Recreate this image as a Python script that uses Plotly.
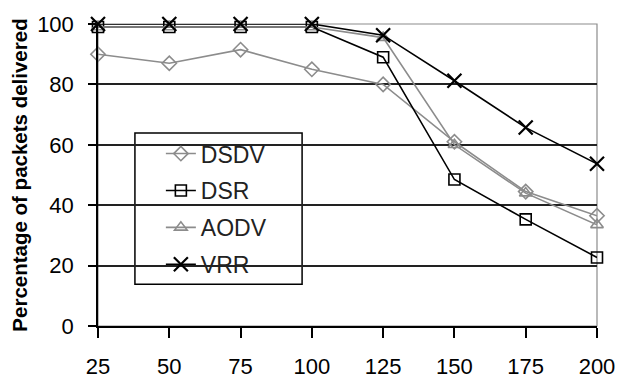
import plotly.graph_objects as go

nodes = [25, 50, 75, 100, 125, 150, 175, 200]
dsdv = [90, 87, 91.5, 85, 80, 61, 44.5, 36.5]
dsr = [99, 99, 99, 99, 89, 48.5, 35.3, 22.7]
aodv = [99, 99, 99, 99, 95.5, 60, 44, 33.5]
vrr = [100, 100, 100, 100, 96.3, 81.2, 65.7, 53.7]
y_ticks = [0, 20, 40, 60, 80, 100]

GRAY = "#8c8c8c"
series = [
    ("DSDV", dsdv, GRAY, "diamond-open", 11),
    ("DSR", dsr, "black", "square-open", 11),
    ("AODV", aodv, GRAY, "triangle-up-open", 11),
    ("VRR", vrr, "black", "x-thin-open", 14),
]

fig = go.Figure()
for i, (name, vals, col, sym, sz) in enumerate(series):
    fig.add_trace(go.Scatter(
        x=nodes, y=vals, name=name, mode="lines+markers",
        line=dict(color=col, width=1.6),
        marker=dict(symbol=sym, size=sz, color=col,
                    line=dict(color=col, width=2.2 if sym.startswith("x") else 1.6)),
        cliponaxis=False, legendgroup=f"g{i}",
    ))

fig.update_layout(
    width=621, height=380,
    margin=dict(l=98, r=24, t=24, b=54),
    paper_bgcolor="white", plot_bgcolor="white",
    font=dict(family="Liberation Sans, Arial", color="black"),
    showlegend=True,
    legend=dict(
        x=0.126, y=0.642, xanchor="left", yanchor="top",
        bgcolor="rgba(0,0,0,0)", borderwidth=0,
        font=dict(size=23, color="#222"), tracegroupgap=4,
    ),
    xaxis=dict(
        range=[25, 200], tickvals=nodes, ticktext=[str(n) for n in nodes],
        showgrid=False, zeroline=False, showline=True, linecolor="black", linewidth=1.5,
        ticks="outside", ticklen=10, tickwidth=1.5, tickcolor="black",
        tickfont=dict(size=22), ticklabelstandoff=10, automargin=False,
    ),
    yaxis=dict(
        range=[0, 100], tickvals=y_ticks, showgrid=True, gridcolor="#222", gridwidth=1.5,
        zeroline=False, showline=True, linecolor="black", linewidth=1.5,
        ticks="outside", ticklen=8, tickwidth=1.5, tickcolor="black",
        tickfont=dict(size=22), ticklabelstandoff=10, automargin=False,
        title=dict(text="<b>Percentage of packets delivered</b>", font=dict(size=20.5), standoff=4),
    ),
    shapes=[
        dict(type="rect", xref="paper", yref="paper", x0=0, x1=1, y0=0, y1=1,
             line=dict(color=GRAY, width=1.2), layer="below"),
        dict(type="rect", xref="paper", yref="paper", x0=0.074, x1=0.409, y0=0.138, y1=0.639,
             line=dict(color="black", width=1.5), fillcolor="white", layer="between"),
    ],
)

fig.write_html("out.html")
